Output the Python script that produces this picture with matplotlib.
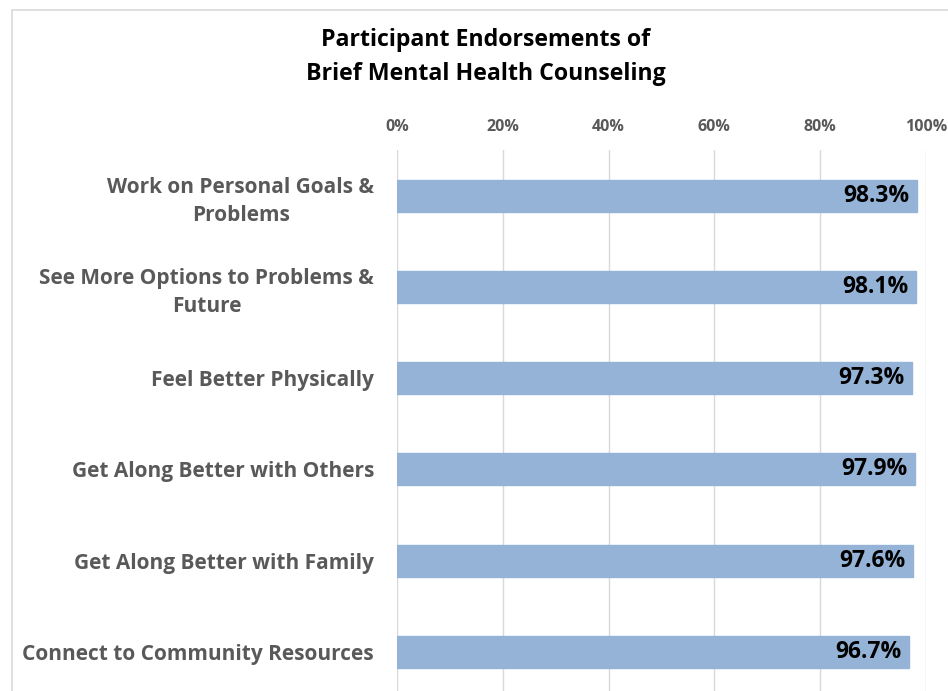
import matplotlib
matplotlib.use("Agg")
import matplotlib.pyplot as plt
from matplotlib.patches import Rectangle
from matplotlib.ticker import FuncFormatter

categories = [
    "Work on Personal Goals &\nProblems",
    "See More Options to Problems &\nFuture",
    "Feel Better Physically",
    "Get Along Better with Others",
    "Get Along Better with Family",
    "Connect to Community Resources",
]
values = [98.3, 98.1, 97.3, 97.9, 97.6, 96.7]
xticks = [0, 20, 40, 60, 80, 100]
title = "Participant Endorsements of\nBrief Mental Health Counseling"

plt.rcParams['font.family'] = ['Open Sans', 'DejaVu Sans']

fig = plt.figure(figsize=(9.48, 6.91), dpi=100)
fig.patch.set_facecolor('white')

# light border of chart area
fig.add_artist(Rectangle((12/948, -0.1), 1.2, 0.1 + (1 - 10/691),
                         transform=fig.transFigure, fill=False,
                         edgecolor='#D9D9D9', linewidth=1.2))

ax = fig.add_axes([397/948, 1 - 697.5/691, (926 - 397)/948, (697.5 - 150)/691])
y = list(range(len(categories)))
ax.barh(y, values, height=0.35, color='#95B3D7', edgecolor='#95B3D7', zorder=3)
ax.set_ylim(len(categories) - 0.5, -0.5)
ax.set_xlim(0, 100)
ax.set_xticks(xticks)
ax.xaxis.set_major_formatter(FuncFormatter(lambda v, p: f"{v:.0f}%"))
ax.xaxis.tick_top()
ax.tick_params(axis='x', length=0, pad=11, labelsize=11.5, labelcolor='#595959')
for lbl in ax.get_xticklabels():
    lbl.set_fontweight('bold')
ax.set_yticks(y)
ax.set_yticklabels(categories, fontsize=15, fontweight='bold', color='#595959',
                   multialignment='center', linespacing=1.4)
ax.tick_params(axis='y', length=0, pad=16.5)
ax.grid(axis='x', color='#D9D9D9', linewidth=1, zorder=0)
for s in ax.spines.values():
    s.set_visible(False)
ax.set_facecolor('none')

for yi, v in zip(y, values):
    ax.text(v - 1.4, yi, f"{v:.1f}%", ha='right', va='center', fontsize=16.5,
            fontweight='bold', color='black', zorder=4)

fig.text(486/948, 1 - 57/691, title, ha='center', va='center', fontsize=16.7,
         fontweight='bold', color='black', linespacing=1.5)

fig.savefig('out.png', dpi=100, facecolor='white')
